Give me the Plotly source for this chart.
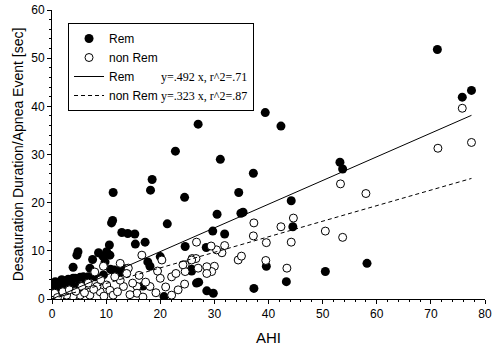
import plotly.graph_objects as go

# ---- data ----
rem_x = [71.2, 75.8, 77.5, 53.2, 53.7, 58.2, 50.5, 43.3, 39.6, 37.3, 44.5, 44.2, 34.9, 35.3, 30.5, 29.7,
         31.9, 29.8, 28.6, 39.4, 42.3, 31.1, 37.2, 34.5, 27.0, 22.8, 18.5, 18.2, 11.3, 24.5, 24.6, 28.5,
         25.8, 27.1, 11.2, 11.0, 21.3, 12.9, 14.0, 15.3, 15.4, 17.2, 10.6, 10.1, 4.8, 4.6, 8.6, 7.5, 9.4,
         9.8, 3.9, 7.0, 10.8, 11.5, 12.3, 17.7, 20.0, 25.8, 26.7, 16.8, 20.7, 18.1, 1.5, 0.9, 3.0, 3.9, 5.2,
         5.8, 0.2, 0.1, 0.6, 1.8, 4.3, 6.7, 8.0, 9.5, 0.2, 1.1, 2.4, 3.6, 4.9, 6.2, 1.4, 2.2, 12.6, 13.5, 10.7]
rem_y = [51.8, 41.9, 43.3, 28.4, 27.0, 7.4, 5.7, 3.6, 6.8, 2.2, 15.0, 20.4, 17.8, 18.0, 17.6, 14.1,
         13.5, 1.2, 1.7, 38.7, 35.9, 29.0, 26.1, 22.1, 36.3, 30.7, 24.8, 22.6, 22.1, 21.1, 10.9, 10.7,
         5.8, 3.5, 16.3, 15.8, 15.6, 13.8, 13.6, 13.5, 11.4, 11.8, 11.2, 9.8, 9.8, 9.1, 9.6, 8.2, 8.9,
         7.7, 6.6, 6.4, 6.2, 6.0, 5.7, 7.7, 8.8, 6.2, 3.3, 2.7, 0.5, 6.8, 3.6, 2.9, 4.1, 4.3, 4.5,
         4.6, 1.9, 1.4, 3.6, 4.0, 4.3, 4.6, 4.6, 5.0, 2.4, 2.2, 2.9, 2.9, 2.8, 3.3, 3.3, 3.8, 5.5, 6.3, 9.1]

nonrem_x = [75.8, 77.5, 71.3, 53.3, 58.0, 53.7, 50.5, 44.6, 44.2, 42.3, 43.4, 39.5, 39.6, 37.2, 37.3,
            34.4, 35.0, 31.9, 31.4, 30.4, 29.4, 30.0, 29.5, 26.7, 25.9, 26.6, 24.6, 24.6, 27.0, 28.6,
            28.6, 24.5, 16.6, 14.1, 9.5, 20.3, 24.2, 25.8, 20.0, 22.1, 22.9, 18.1, 22.1, 15.7, 15.7,
            13.2, 12.6, 10.1, 10.7, 11.3, 8.9, 7.0, 5.2, 3.9, 2.7, 1.5, 0.2, 8.3, 5.5, 6.7, 11.6, 13.8,
            12.6, 0.5, 1.0, 2.0, 3.2, 4.4, 6.0, 7.7, 9.6, 12.1, 14.4, 16.8, 17.3, 19.2, 21.0, 23.3,
            19.5, 16.1, 14.9, 9.0, 7.9]
nonrem_y = [39.6, 32.5, 31.3, 23.9, 21.9, 12.8, 14.1, 16.8, 11.8, 15.0, 6.4, 8.0, 11.7, 13.1, 15.8,
            8.1, 8.9, 11.1, 9.6, 10.2, 11.0, 6.8, 5.7, 11.8, 8.4, 8.4, 7.1, 5.7, 6.4, 6.7,
            5.3, 3.1, 9.1, 6.4, 6.8, 8.1, 7.1, 8.1, 4.3, 4.6, 5.3, 2.6, 0.8, 2.6, 1.2,
            2.6, 3.9, 2.9, 1.8, 0.8, 1.5, 0.8, 0.8, 0.6, 0.8, 0.5, 0.5, 2.6, 2.6, 3.3, 4.6, 5.3,
            7.4, 1.2, 0.3, 1.5, 1.9, 1.6, 1.3, 2.0, 0.6, 1.5, 0.9, 0.4, 3.5, 1.3, 2.5, 1.9,
            5.8, 4.9, 3.3, 4.0, 5.6]

rem_slope = 0.492
nonrem_slope = 0.323
fit_x = [0, 77.5]
rem_eq = "y=.492 x, r^2=.71"
nonrem_eq = "y=.323 x, r^2=.87"

x_ticks = [0, 10, 20, 30, 40, 50, 60, 70, 80]
y_ticks = [0, 10, 20, 30, 40, 50, 60]

FONT = "Liberation Sans, Arial, sans-serif"
SERIF = "Liberation Serif"
EQ_STYLE = f"font-family:{SERIF};font-size:12px"

fig = go.Figure()
fig.add_trace(go.Scatter(x=rem_x, y=rem_y, mode="markers", name="Rem",
                         marker=dict(size=9, color="black", line=dict(width=0))))
fig.add_trace(go.Scatter(x=nonrem_x, y=nonrem_y, mode="markers", name="non Rem",
                         marker=dict(size=8, color="white", line=dict(width=1, color="black"))))
fig.add_trace(go.Scatter(x=fit_x, y=[rem_slope * v for v in fit_x], mode="lines",
                         name="Rem" + "&nbsp;" * 8 + f"<span style='{EQ_STYLE}'>{rem_eq}</span>",
                         line=dict(color="black", width=1)))
fig.add_trace(go.Scatter(x=fit_x, y=[nonrem_slope * v for v in fit_x], mode="lines",
                         name="non Rem&nbsp;" + f"<span style='{EQ_STYLE}'>{nonrem_eq}</span>",
                         line=dict(color="black", width=1, dash="4px,3px")))

axis_common = dict(showgrid=False, zeroline=False, showline=True, linecolor="black", linewidth=1,
                   automargin=False)

fig.update_layout(
    width=497, height=350,
    margin=dict(l=52, r=12, t=10, b=51),
    paper_bgcolor="white", plot_bgcolor="white",
    font=dict(family=FONT, size=12, color="black"),
    xaxis=dict(range=[0, 80], tickvals=x_ticks, ticks="outside", ticklen=4, tickcolor="black",
               minor=dict(dtick=2, ticks="outside", ticklen=2, tickcolor="black"),
               title=dict(text="AHI", font=dict(size=15), standoff=12),
               tickfont=dict(size=12), **axis_common),
    yaxis=dict(range=[0, 60], tickvals=y_ticks, ticks="outside", ticklen=4, tickcolor="black",
               minor=dict(dtick=2, ticks="outside", ticklen=2, tickcolor="black"),
               title=dict(text="Desaturation Duration/Apnea Event [sec]", font=dict(size=14), standoff=4),
               tickfont=dict(size=12), **axis_common),
    xaxis2=dict(overlaying="x", side="top", anchor="y", matches="x", range=[0, 80], tickvals=x_ticks,
                ticks="inside", ticklen=4, tickcolor="black", showticklabels=False,
                minor=dict(dtick=2, ticks="inside", ticklen=2, tickcolor="black"), **axis_common),
    yaxis2=dict(overlaying="y", side="right", anchor="x", matches="y", range=[0, 60], tickvals=y_ticks,
                ticks="inside", ticklen=4, tickcolor="black", showticklabels=False,
                minor=dict(dtick=2, ticks="inside", ticklen=2, tickcolor="black"), **axis_common),
    showlegend=True,
    legend=dict(x=0.037, y=0.955, xanchor="left", yanchor="top", bgcolor="white",
                bordercolor="black", borderwidth=1, font=dict(family=FONT, size=12),
                itemwidth=30, tracegroupgap=0),
)

fig.write_html("out.html", config={"displayModeBar": False},
               post_script="document.body.style.margin='0px';")
